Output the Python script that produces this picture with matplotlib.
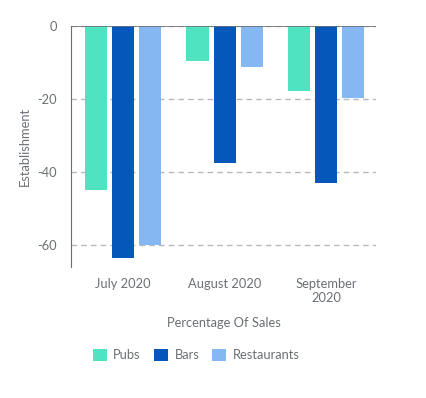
import numpy as np
import matplotlib.pyplot as plt
from matplotlib.patches import Patch

plt.rcParams['font.family'] = ['Lato', 'DejaVu Sans']

months = ['July 2020', 'August 2020', 'September\n2020']
series = ['Pubs', 'Bars', 'Restaurants']
pubs = [-45, -9.6, -17.9]
bars = [-63.5, -37.4, -42.9]
restaurants = [-60, -11.3, -19.8]
colors = ['#50E3C2', '#0558BA', '#85B8F2']

TXT = '#6b6f75'

fig = plt.figure(figsize=(4.26, 3.98), dpi=100)
ax = fig.add_axes([0.1667, 0.329, 0.716, 0.606])

x = np.arange(len(months))
w = 0.217
step = 0.266
for i, (vals, c) in enumerate(zip([pubs, bars, restaurants], colors)):
    ax.bar(x + (i - 1) * step, vals, width=w, color=c, zorder=3)

ax.set_xlim(-0.51, 2.49)
ax.set_ylim(-66, 0)
ax.set_yticks([0, -20, -40, -60])
ax.set_yticklabels(['0', '-20', '-40', '-60'])
ax.yaxis.grid(True, linestyle=(0, (4, 3)), color='#b5b8bd', lw=1, zorder=0)
ax.axhline(0, color='#6b6f75', lw=1.2, zorder=4)

ax.set_xticks(x)
ax.set_xticklabels(months)
ax.tick_params(axis='both', length=0, labelsize=9.3, colors=TXT)
ax.tick_params(axis='x', pad=8)
ax.tick_params(axis='y', pad=10)

for s in ['top', 'right', 'bottom']:
    ax.spines[s].set_visible(False)
ax.spines['left'].set_color('#6b6f75')

ax.set_ylabel('Establishment', fontsize=9.3, color=TXT, labelpad=5)
ax.set_xlabel('Percentage Of Sales', fontsize=9.3, color=TXT, labelpad=9)

handles = [Patch(facecolor=c, label=s) for s, c in zip(series, colors)]
fig.legend(handles=handles, loc='center left', bbox_to_anchor=(0.19, 0.108),
           ncol=3, frameon=False, fontsize=9.3, handlelength=1.1, handleheight=1.1,
           handletextpad=0.5, columnspacing=1.0, labelcolor=TXT)

fig.savefig('out.png', dpi=100)
